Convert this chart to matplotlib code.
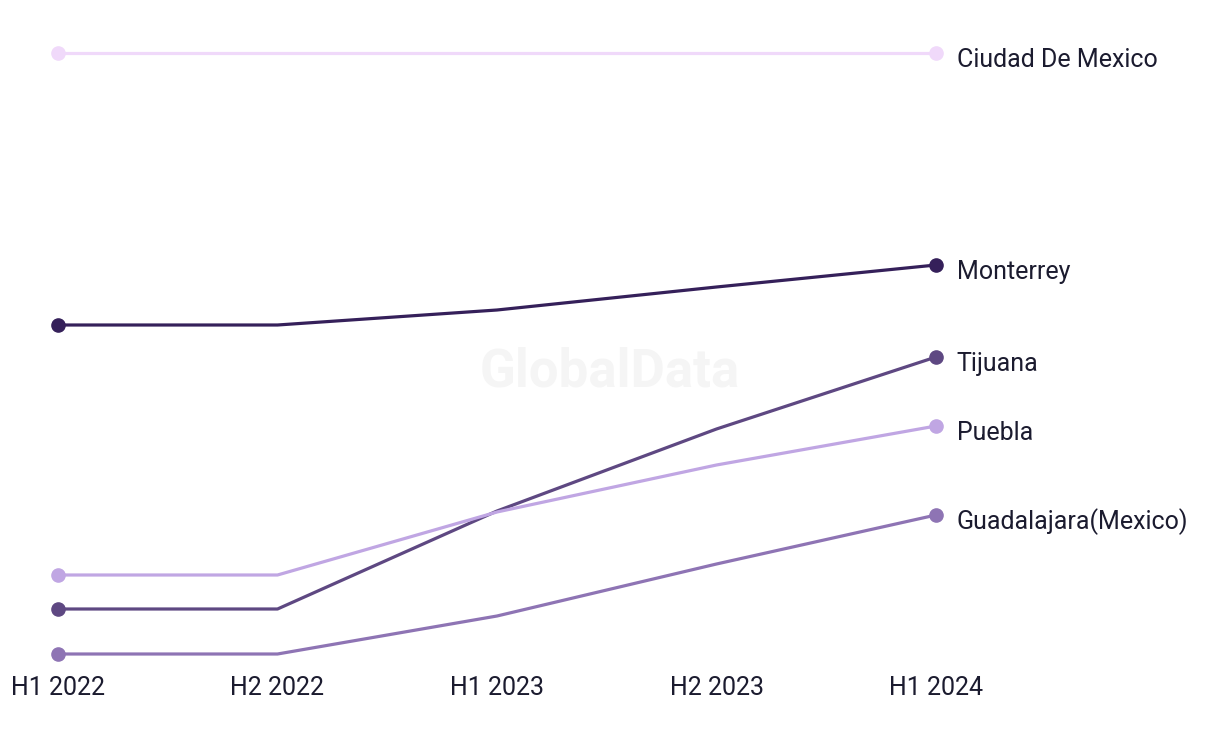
import matplotlib.pyplot as plt

plt.rcParams['font.family'] = ['Roboto', 'DejaVu Sans']

periods = ["H1 2022", "H2 2022", "H1 2023", "H2 2023", "H1 2024"]

# values (no y axis shown, arbitrary units)
ciudad = [64.7, 64.7, 64.7, 64.7, 64.7]
monterrey = [37.5, 37.5, 39.0, 41.3, 43.5]
tijuana = [9.1, 9.1, 18.9, 27.1, 34.3]
puebla = [12.5, 12.5, 18.8, 23.5, 27.4]
guadalajara = [4.6, 4.6, 8.4, 13.6, 18.5]

names = ["Ciudad De Mexico", "Monterrey", "Tijuana", "Puebla", "Guadalajara(Mexico)"]
series = [ciudad, monterrey, tijuana, puebla, guadalajara]
colors = ["#f0d9fa", "#35205a", "#5e4882", "#c0a6e3", "#8e74b4"]

W, H = 1220, 744
fig = plt.figure(figsize=(W / 100, H / 100), dpi=100)
ax = fig.add_axes([58 / W, 1 - 654 / H, (936 - 58) / W, (654 - 53) / H])

x = list(range(len(periods)))
for name, ys, col in zip(names, series, colors):
    ax.plot(x, ys, color=col, lw=2.3, marker='o', ms=9.5, markevery=[0, len(x) - 1],
            clip_on=False, solid_capstyle='round')
    ax.annotate(name, (x[-1], ys[-1]), xytext=(15, -5), textcoords='offset points',
                va='center', ha='left', fontsize=18, color='#1b1b2f')

ax.text(0.628, 0.469, "GlobalData", transform=ax.transAxes, ha='center', va='center',
        fontsize=38, fontweight='bold', color='#f5f5f5', zorder=0)

ax.set_xlim(0, 4)
ax.set_ylim(4.6, 64.7)
ax.set_xticks(x)
ax.set_xticklabels(periods, fontsize=18, color='#1b1b2f')
ax.tick_params(axis='x', length=0, pad=16)
ax.set_yticks([])
for s in ax.spines.values():
    s.set_visible(False)

fig.savefig("out.png", dpi=100)
